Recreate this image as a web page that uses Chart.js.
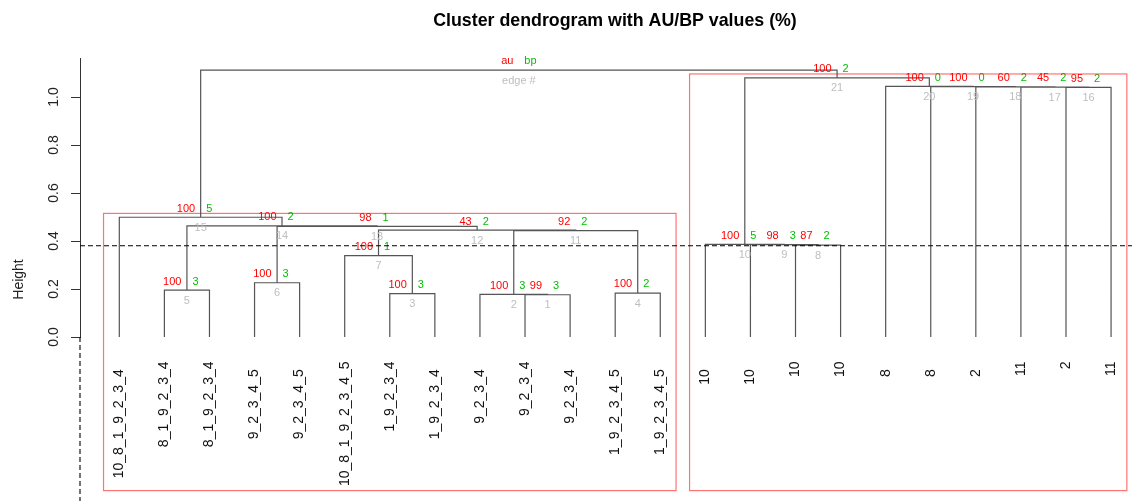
<!DOCTYPE html>
<html>
<head>
<meta charset="utf-8">
<script src="https://cdn.jsdelivr.net/npm/chart.js@4.4.1/dist/chart.umd.min.js"></script>
<style>
  html, body { margin: 0; padding: 0; background: #fff; }
  #wrap { width: 1132px; height: 501px; }
</style>
</head>
<body>
<div id="wrap"><canvas id="dendroCanvas"></canvas></div>
<script>
// leaves in plotted order (some source labels carry trailing blanks)
const leafLabels = [
    '10_8_1_9_2_3_4  ', '8_1_9_2_3_4', '8_1_9_2_3_4', '9_2_3_4_5  ', '9_2_3_4_5  ',
    '10_8_1_9_2_3_4_5', '1_9_2_3_4', '1_9_2_3_4  ', '9_2_3_4  ', '9_2_3_4',
    '9_2_3_4  ', '1_9_2_3_4_5  ', '1_9_2_3_4_5  ',
    '10  ', '10  ', '10', '10', '8  ', '8  ', '2  ', '11', '2', '11'
];

// hclust style merges: negative = leaf position, positive = earlier edge #
const mergeLeft   = [-10, -9, -7, -12, -2, -4, -6, -16, -15, -14, 2, 7, 6, 5, -1, -22, -21, -20, -19, -18, 10, 15];
const mergeRight  = [-11,  1, -8, -13, -3, -5,  3, -17,   8,   9, 4, 11, 12, 13, 14, -23, 16, 17, 18, 19, 20, 21];
const mergeHeight = [0.176, 0.178, 0.181, 0.183, 0.195, 0.226, 0.339, 0.383, 0.385, 0.386,
                     0.443, 0.445, 0.461, 0.463, 0.499, 1.040, 1.041, 1.042, 1.043, 1.044, 1.080, 1.112];
const auValues = [99, 100, 100, 100, 100, 100, 100, 87, 98, 100, 92, 43, 98, 100, 100, 95, 45, 60, 100, 100, 100];
const bpValues = [3, 3, 3, 2, 3, 3, 1, 2, 3, 5, 2, 2, 1, 2, 5, 2, 2, 2, 0, 0, 2];

const yTicks = [0, 0.2, 0.4, 0.6, 0.8, 1.0];
const cutHeight = 0.38;
const rectEdges = [15, 21];

const FONT = "'Liberation Sans', Arial, sans-serif";
const AU_COL = '#ff0000';
const BP_COL = '#00c000';
const EDGE_COL = '#bebebe';

// positions of every edge (x = mean of the two children, like plot.hclust)
const nodeX = [];
const nodeLeaves = [];
const childOf = (ref) => ref < 0
    ? { x: -ref, h: 0, leaves: [-ref] }
    : { x: nodeX[ref - 1], h: mergeHeight[ref - 1], leaves: nodeLeaves[ref - 1] };

const segments = [];
for (let k = 0; k < mergeHeight.length; k++) {
    const a = childOf(mergeLeft[k]);
    const b = childOf(mergeRight[k]);
    const h = mergeHeight[k];
    nodeX.push((a.x + b.x) / 2);
    nodeLeaves.push(a.leaves.concat(b.leaves));
    segments.push({ x: a.x, y: a.h }, { x: a.x, y: h }, { x: b.x, y: h }, { x: b.x, y: b.h }, { x: b.x, y: null });
}

const rotText = (ctx, txt, x, y) => {
    ctx.save();
    ctx.translate(x, y);
    ctx.rotate(-Math.PI / 2);
    ctx.fillText(txt, 0, 0);
    ctx.restore();
};

const decorPlugin = {
    id: 'decor',
    afterDraw(chart) {
        const ctx = chart.ctx;
        const xs = chart.scales.x;
        const ys = chart.scales.y;
        const area = chart.chartArea;

        // title
        ctx.save();
        ctx.fillStyle = '#000';
        ctx.font = 'bold 17.8px ' + FONT;
        ctx.textAlign = 'center';
        ctx.textBaseline = 'alphabetic';
        ctx.fillText('Cluster dendrogram with AU/BP values (%)', 615, 25.5);

        // y tick labels, rotated as in R
        ctx.font = '14px ' + FONT;
        ctx.fillStyle = '#222';
        ctx.textAlign = 'center';
        ctx.textBaseline = 'middle';
        yTicks.forEach(v => rotText(ctx, v.toFixed(1), area.left - 26, ys.getPixelForValue(v)));
        rotText(ctx, 'Height', 19, 279.5);

        // au / bp / edge numbers
        ctx.font = '11px ' + FONT;
        ctx.textBaseline = 'middle';
        for (let k = 0; k < mergeHeight.length; k++) {
            const px = xs.getPixelForValue(nodeX[k]);
            const py = ys.getPixelForValue(mergeHeight[k]);
            const isRoot = k === mergeHeight.length - 1;
            ctx.textAlign = 'right';
            ctx.fillStyle = AU_COL;
            ctx.fillText(isRoot ? 'au' : String(auValues[k]), px - 5.5, py - 8.7);
            ctx.textAlign = 'left';
            ctx.fillStyle = BP_COL;
            ctx.fillText(isRoot ? 'bp' : String(bpValues[k]), px + 5.5, py - 8.7);
            ctx.textAlign = 'center';
            ctx.fillStyle = EDGE_COL;
            ctx.fillText(isRoot ? 'edge #' : String(k + 1), px, py + 10.5);
        }

        // pvrect boxes
        ctx.strokeStyle = 'rgba(255,0,0,0.55)';
        ctx.lineWidth = 1.2;
        rectEdges.forEach(e => {
            const lv = nodeLeaves[e - 1];
            const x1 = xs.getPixelForValue(Math.min(...lv) - 0.35);
            const x2 = xs.getPixelForValue(Math.max(...lv) + 0.35);
            const y1 = ys.getPixelForValue(mergeHeight[e - 1] + 0.016);
            const y2 = ys.getPixelForValue(-0.64);
            ctx.strokeRect(x1, y1, x2 - x1, y2 - y1);
        });

        // cut height and the dashed guide below the axis
        ctx.strokeStyle = '#000';
        ctx.lineWidth = 1.1;
        ctx.setLineDash([5, 3]);
        const cy = ys.getPixelForValue(cutHeight);
        ctx.beginPath();
        ctx.moveTo(area.left, cy);
        ctx.lineTo(chart.width, cy);
        ctx.moveTo(area.left, area.bottom);
        ctx.lineTo(area.left, chart.height);
        ctx.stroke();
        ctx.restore();
    }
};

new Chart('dendroCanvas', {
    type: 'scatter',
    data: {
        datasets: [{
            data: segments,
            showLine: true,
            spanGaps: false,
            borderColor: '#555',
            borderWidth: 1.2,
            pointRadius: 0,
            pointHoverRadius: 0
        }]
    },
    options: {
        responsive: true,
        maintainAspectRatio: false,
        animation: false,
        layout: { padding: { top: 58, right: 2, left: 0, bottom: 0 } },
        plugins: {
            legend: { display: false },
            tooltip: { enabled: false },
            title: { display: false }
        },
        scales: {
            x: {
                type: 'linear',
                min: 0.128,
                max: 23.42,
                afterBuildTicks: s => { s.ticks = leafLabels.map((_, i) => ({ value: i + 1 })); },
                afterFit: s => { s.height = 164; s.paddingLeft = 0; s.paddingRight = 0; },
                grid: { display: false },
                border: { display: false },
                ticks: {
                    autoSkip: false,
                    minRotation: 90,
                    maxRotation: 90,
                    padding: 16.5,
                    color: '#111',
                    font: { size: 14, family: FONT },
                    callback: (v) => leafLabels[Math.round(v) - 1]
                }
            },
            y: {
                type: 'linear',
                min: 0,
                max: 1.1625,
                afterBuildTicks: s => { s.ticks = yTicks.map(v => ({ value: v })); },
                afterFit: s => { s.width = 80; s.paddingTop = 0; s.paddingBottom = 0; },
                grid: { display: true, drawOnChartArea: false, drawTicks: true, tickLength: 9, color: '#333' },
                border: { display: true, color: '#333' },
                ticks: { display: false }
            }
        }
    },
    plugins: [decorPlugin]
});
</script>
</body>
</html>
